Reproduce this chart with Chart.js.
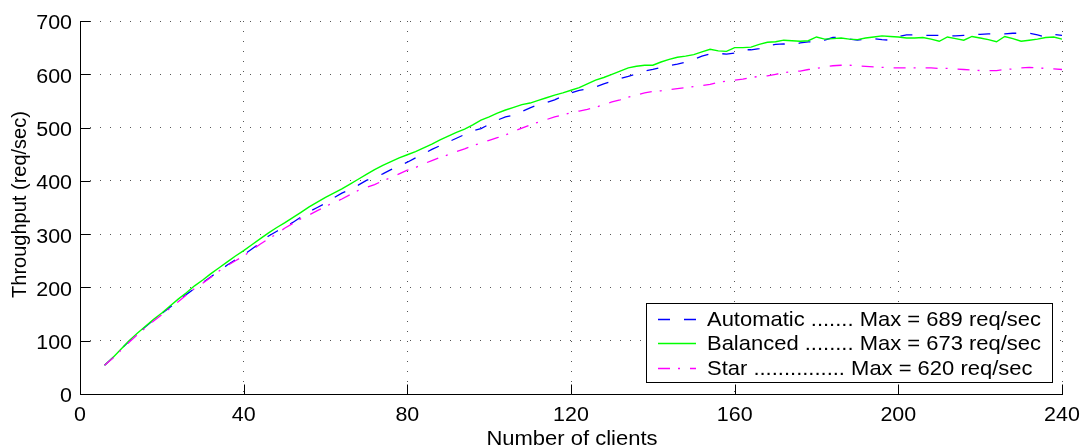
<!DOCTYPE html>
<html>
<head>
<meta charset="utf-8">
<script src="https://cdn.jsdelivr.net/npm/chart.js@4"></script>
<style>
html,body{margin:0;padding:0;background:#fff;}
#wrap{width:1081px;height:446px;}
</style>
</head>
<body>
<div id="wrap"><canvas id="c" width="1081" height="446"></canvas></div>
<script>
const clients = [6,8,10,12,14,16,18,20,22,24,
  26,28,30,32,34,36,38,40,42,44,
  46,48,50,52,54,56,58,60,62,64,
  66,68,70,72,74,76,78,80,82,84,
  86,88,90,92,94,96,98,100,102,104,
  106,108,110,112,114,116,118,120,122,124,
  126,128,130,132,134,136,138,140,142,144,
  146,148,150,152,154,156,158,160,162,164,
  166,168,170,172,174,176,178,180,182,184,
  186,188,190,192,194,196,198,200,202,204,
  206,208,210,212,214,216,218,220,222,224,
  226,228,230,232,234,236,238,240];

const automatic = [54,68,84,99,113,126,139,151,163,175,
  187,198,209,220,231,242,252,261,272,283,
  296,305,313,322,332,342,350,358,368,377,
  384,392,401,407,413,421,428,435,443,451,
  459,466,473,480,487,494,498,506,514,520,
  523,530,537,543,547,552,559,565,570,572,
  576,582,587,592,596,601,606,609,613,616,
  619,623,628,634,638,639,638,640,646,646,
  648,654,656,657,655,659,661,660,664,669,
  669,666,664,666,667,665,664,671,674,674,
  673,673,673,672,672,673,674,675,676,676,
  676,677,677,677,674,670,675,673];

const balanced = [54,68,84,100,114,127,140,152,165,178,
  190,203,214,226,237,248,259,269,280,291,
  302,312,321,331,341,351,360,369,377,385,
  394,403,412,421,429,436,443,449,455,462,
  469,477,484,491,497,505,514,520,527,533,
  538,543,546,551,556,561,565,570,575,582,
  589,594,600,606,612,615,617,617,623,628,
  632,634,637,642,647,644,643,650,650,651,
  656,660,661,664,663,662,663,670,666,667,
  668,666,665,668,670,672,671,670,668,668,
  669,666,662,670,667,664,671,668,665,661,
  671,667,662,664,666,669,670,666];

const star = [54,67,82,97,111,124,137,149,161,173,
  186,198,208,219,231,241,250,259,270,281,
  291,300,311,320,329,336,344,352,359,366,
  374,382,388,393,400,406,413,420,425,432,
  438,444,449,455,460,466,471,476,481,486,
  493,499,505,510,515,520,524,528,531,534,
  538,543,548,552,557,561,565,568,569,571,
  573,575,577,579,581,585,587,589,591,594,
  596,597,600,603,605,606,609,611,614,616,
  617,617,616,615,614,613,612,612,612,612,
  612,612,611,611,610,609,608,607,607,607,
  609,610,612,613,612,611,610,609];

const seriesNames = ['Automatic', 'Balanced', 'Star'];
const legendLabels = [
  'Automatic ....... Max = 689 req/sec',
  'Balanced ........ Max = 673 req/sec',
  'Star ............... Max = 620 req/sec'
];
const xTicks = [0, 40, 80, 120, 160, 200, 240];
const yTicks = [0, 100, 200, 300, 400, 500, 600, 700];
const xTitle = 'Number of clients';
const yTitle = 'Throughput (req/sec)';

const FONT = '"Liberation Sans", Arial, Helvetica, sans-serif';
const SX = 1.1;

function drawText(ctx, text, x, y, align, sx) {
  const w = ctx.measureText(text).width * sx;
  const left = align === 'center' ? x - w / 2 : (align === 'right' ? x - w : x);
  ctx.save();
  ctx.translate(left, y);
  ctx.scale(sx, 1);
  ctx.textAlign = 'left';
  ctx.textBaseline = 'alphabetic';
  ctx.fillText(text, 0, 0);
  ctx.restore();
}

const axesPlugin = {
  id: 'axesPlugin',
  afterDatasetsDraw(chart) {
    const {ctx, chartArea: a, scales: {x, y}} = chart;
    ctx.save();
    ctx.strokeStyle = '#000';
    ctx.lineWidth = 1;
    ctx.setLineDash([]);
    ctx.beginPath();
    const L = Math.round(a.left) + 0.5, B = Math.round(a.bottom) + 0.5;
    ctx.moveTo(L, Math.round(a.top));
    ctx.lineTo(L, B);
    ctx.lineTo(Math.round(a.right) + 1, B);
    xTicks.forEach(v => {
      const px = Math.round(x.getPixelForValue(v)) + 0.5;
      ctx.moveTo(px, B);
      ctx.lineTo(px, B - 10);
    });
    yTicks.forEach(v => {
      const py = Math.round(y.getPixelForValue(v)) + 0.5;
      ctx.moveTo(L, py);
      ctx.lineTo(L + 10, py);
    });
    ctx.stroke();
    ctx.restore();
  },
  afterDraw(chart) {
    const {ctx, chartArea: a, scales: {x, y}} = chart;
    ctx.save();
    ctx.fillStyle = '#000';
    ctx.font = '19.5px ' + FONT;
    xTicks.forEach(v => drawText(ctx, String(v), x.getPixelForValue(v), a.bottom + 26.5, 'center', SX));
    yTicks.forEach(v => drawText(ctx, String(v), a.left - 8, y.getPixelForValue(v) + 8.4, 'right', SX));
    ctx.font = '20px ' + FONT;
    drawText(ctx, xTitle, (a.left + a.right) / 2 + 1, chart.height - 1, 'center', SX);
    ctx.save();
    ctx.translate(25.5, (a.top + a.bottom) / 2 - 3);
    ctx.rotate(-Math.PI / 2);
    drawText(ctx, yTitle, 0, 0, 'center', 1);
    ctx.restore();

    // legend box
    const right = a.right - 10.3, bottom = a.bottom - 12;
    const w = 406, h = 79;
    const left = Math.round(right - w), top = Math.round(bottom - h);
    ctx.fillStyle = '#fff';
    ctx.fillRect(left, top, w, h);
    ctx.strokeStyle = '#000';
    ctx.lineWidth = 1;
    ctx.setLineDash([]);
    ctx.strokeRect(left + 0.5, top + 0.5, w, h);
    ctx.font = '21px ' + FONT;
    const lsx = 334 / ctx.measureText(legendLabels[0]).width;
    chart.data.datasets.forEach((ds, i) => {
      const base = top + 22.5 + i * 24.8;
      const ly = Math.round(base - 7) + 0.5;
      ctx.strokeStyle = ds.borderColor;
      ctx.lineWidth = ds.borderWidth;
      ctx.setLineDash(ds.borderDash || []);
      ctx.beginPath();
      ctx.moveTo(left + 12, ly);
      ctx.lineTo(left + 50, ly);
      ctx.stroke();
      ctx.setLineDash([]);
      ctx.fillStyle = '#000';
      drawText(ctx, legendLabels[i], left + 61, base, 'left', lsx);
    });
    ctx.restore();
  }
};

const mk = (arr) => clients.map((c, i) => ({x: c, y: arr[i]}));

new Chart(document.getElementById('c'), {
  type: 'line',
  data: {
    datasets: [
      {label: seriesNames[0], data: mk(automatic), borderColor: '#0000ff', borderWidth: 1.3, borderDash: [12, 14], order: 3},
      {label: seriesNames[1], data: mk(balanced), borderColor: '#00ff00', borderWidth: 1.4, order: 2},
      {label: seriesNames[2], data: mk(star), borderColor: '#ff00ff', borderWidth: 1.3, borderDash: [12, 8, 2, 10], order: 1}
    ]
  },
  options: {
    responsive: false,
    animation: false,
    devicePixelRatio: 1,
    layout: {padding: {top: 21, right: 19, left: 0, bottom: 0}},
    plugins: {legend: {display: false}, tooltip: {enabled: false}},
    elements: {point: {radius: 0}, line: {tension: 0, fill: false}},
    scales: {
      x: {
        type: 'linear', min: 0, max: 240,
        afterBuildTicks: s => { s.ticks = xTicks.map(v => ({value: v})); },
        afterFit: s => { s.height = 52; },
        grid: {color: '#555', lineWidth: 1, drawTicks: false},
        border: {display: false, dash: [1, 9]},
        ticks: {display: false}
      },
      y: {
        type: 'linear', min: 0, max: 700,
        afterBuildTicks: s => { s.ticks = yTicks.map(v => ({value: v})); },
        afterFit: s => { s.width = 80; },
        grid: {color: '#555', lineWidth: 1, drawTicks: false},
        border: {display: false, dash: [1, 9]},
        ticks: {display: false}
      }
    }
  },
  plugins: [axesPlugin]
});
</script>
</body>
</html>
